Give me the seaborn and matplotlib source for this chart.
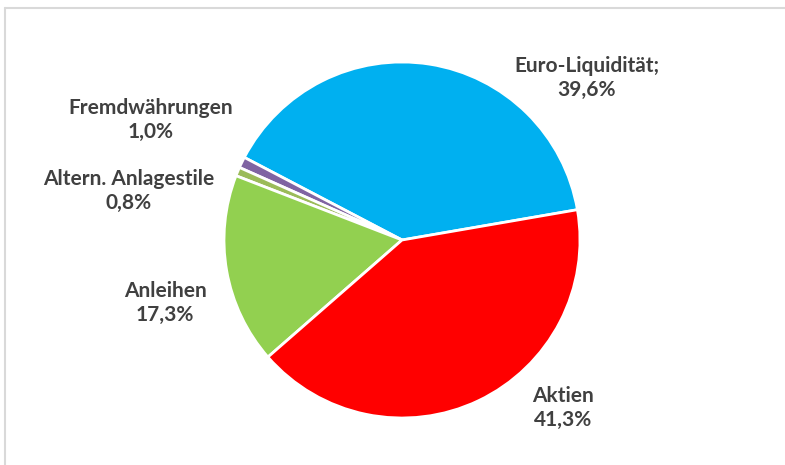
import matplotlib
matplotlib.use("Agg")
import matplotlib.pyplot as plt
import seaborn as sns
from matplotlib.lines import Line2D

sns.set_theme(style="white")
plt.rcParams['font.family'] = ['Lato', 'DejaVu Sans']

categories = ["Euro-Liquidität", "Fremdwährungen", "Altern. Anlagestile", "Anleihen", "Aktien"]
values = [39.6, 1.0, 0.8, 17.3, 41.3]
label_texts = ["Euro-Liquidität;\n39,6%", "Fremdwährungen\n1,0%", "Altern. Anlagestile\n0,8%",
               "Anleihen\n17,3%", "Aktien\n41,3%"]
colors = ["#00B0F0", "#8064A2", "#9BBB59", "#92D050", "#FF0000"]

W, H = 785, 465
fig = plt.figure(figsize=(W / 100, H / 100), dpi=100)
fig.patch.set_facecolor("white")

cx, cy, r = 402, 240, 178
ax = fig.add_axes([(cx - r) / W, (H - cy - r) / H, 2 * r / W, 2 * r / H])
ax.pie(values, colors=colors, startangle=9.8, counterclock=True, radius=1,
       wedgeprops=dict(edgecolor="white", linewidth=2))
ax.set_xlim(-1, 1)
ax.set_ylim(-1, 1)
ax.set_aspect("equal")
ax.axis("off")

label_pos = [(587, 78), (151, 120), (129, 191), (165, 303), (563, 408)]
for txt, (x, y) in zip(label_texts, label_pos):
    fig.text(x / W, 1 - y / H, txt, ha="center", va="center", fontsize=15,
             fontweight="bold", color="#404040", linespacing=1.22)

# light frame (top and left)
fig.add_artist(Line2D([5 / W, 1], [1 - 8 / H, 1 - 8 / H], transform=fig.transFigure,
                      color="#D9D9D9", linewidth=1.5))
fig.add_artist(Line2D([5 / W, 5 / W], [0, 1 - 8 / H], transform=fig.transFigure,
                      color="#D9D9D9", linewidth=1.5))

fig.savefig("out.png", dpi=100, facecolor="white")
